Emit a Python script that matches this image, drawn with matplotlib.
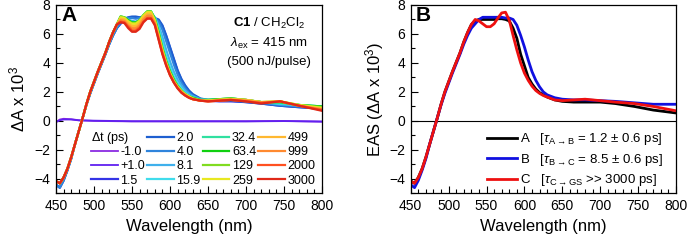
import matplotlib
matplotlib.use('Agg')
import matplotlib.pyplot as plt
from matplotlib.lines import Line2D
from matplotlib.ticker import MultipleLocator

plt.rcParams['font.family'] = ['Liberation Sans', 'DejaVu Sans']
plt.rcParams['mathtext.fontset'] = 'custom'
plt.rcParams['mathtext.rm'] = 'Liberation Sans'
plt.rcParams['mathtext.it'] = 'Liberation Sans:italic'
plt.rcParams['mathtext.bf'] = 'Liberation Sans:bold'

# wavelength grid (nm): rising edge, band region, red tail
wl_edge = [450, 455, 460, 465, 470, 475, 480, 485, 490, 495, 500, 505, 510, 515, 520, 525, 530]
wl_band = [535, 540, 545, 550, 555, 560, 565, 570, 575, 580, 585, 590, 595, 600, 605, 610, 615, 620, 625, 630]
wl_tail = [640, 650, 665, 680, 700, 720, 745, 770, 800]
wl = wl_edge + wl_band + wl_tail

edge_early = [-4.4, -4.6, -4.1, -3.4, -2.6, -1.6, -0.7, 0.2, 1.1, 1.9, 2.6, 3.3, 3.95, 4.6, 5.3, 5.9, 6.4]
edge_late = [-4.15, -4.3, -3.9, -3.3, -2.5, -1.6, -0.7, 0.2, 1.15, 2.0, 2.7, 3.4, 4.05, 4.7, 5.45, 6.1, 6.65]

# panel A: transient spectra (dA x 1e3)
delays = ['-1.0', '+1.0', '1.5', '2.0', '4.0', '8.1', '15.9', '32.4',
          '63.4', '129', '259', '499', '999', '2000', '3000']
colors_A = ['#8a2be2', '#6020f0', '#3434e6', '#1e5fd0', '#2f84dc', '#3fb0ec', '#40dcec', '#30e0a0',
            '#10d010', '#80dc20', '#e8e820', '#ffb830', '#ff8a30', '#ff5020', '#e02818']

wl_flat = [450, 455, 460, 470, 480, 500, 550, 600, 650, 700, 750, 800]
dA_m1p0 = [-0.1, 0.1, 0.15, 0.12, 0.05, 0.0, -0.03, -0.02, -0.03, -0.02, 0.0, -0.05]
dA_p1p0 = [-0.05, 0.05, 0.1, 0.1, 0.04, 0.02, -0.02, -0.03, -0.02, -0.03, -0.01, -0.04]

dA_1p5 = edge_early + [6.7, 7.0, 7.1, 7.15, 7.15, 7.1, 7.15, 7.15, 7.1, 7.05, 6.95, 6.55, 5.85, 5.05,
                       4.25, 3.45, 2.85, 2.4, 2.05, 1.8] + [1.5, 1.4, 1.35, 1.35, 1.3, 1.2, 1.05, 0.95, 0.85]
dA_2p0 = edge_early + [6.75, 7.05, 7.15, 7.2, 7.2, 7.15, 7.2, 7.2, 7.15, 7.1, 7.0, 6.6, 5.9, 5.1,
                       4.3, 3.5, 2.9, 2.45, 2.1, 1.85] + [1.55, 1.45, 1.4, 1.4, 1.3, 1.2, 1.05, 0.95, 0.85]
dA_4p0 = edge_early + [6.8, 7.05, 7.1, 7.1, 7.05, 7.1, 7.2, 7.3, 7.25, 7.1, 6.85, 6.3, 5.5, 4.7,
                       3.9, 3.2, 2.65, 2.25, 1.95, 1.75] + [1.5, 1.45, 1.45, 1.45, 1.35, 1.25, 1.1, 1.0, 0.9]
dA_8p1 = edge_late + [6.95, 7.1, 7.0, 6.9, 6.85, 6.95, 7.2, 7.4, 7.4, 7.15, 6.6, 5.8, 4.9, 4.1,
                      3.4, 2.85, 2.45, 2.1, 1.85, 1.7] + [1.5, 1.45, 1.5, 1.5, 1.4, 1.3, 1.15, 1.05, 0.95]
dA_15p9 = edge_late + [7.1, 7.1, 6.95, 6.8, 6.75, 6.9, 7.25, 7.5, 7.5, 7.15, 6.4, 5.4, 4.45, 3.7,
                       3.05, 2.6, 2.25, 1.95, 1.75, 1.6] + [1.45, 1.45, 1.5, 1.55, 1.45, 1.3, 1.2, 1.1, 1.0]
dA_32p4 = edge_late + [7.2, 7.15, 6.95, 6.8, 6.75, 6.9, 7.25, 7.55, 7.55, 7.1, 6.2, 5.1, 4.2, 3.5,
                       2.9, 2.45, 2.1, 1.85, 1.7, 1.6] + [1.45, 1.45, 1.5, 1.55, 1.45, 1.3, 1.25, 1.1, 1.0]
dA_63p4 = edge_late + [7.2, 7.15, 6.95, 6.8, 6.8, 6.95, 7.3, 7.55, 7.55, 7.05, 6.1, 5.0, 4.1, 3.4,
                       2.85, 2.4, 2.1, 1.85, 1.7, 1.6] + [1.45, 1.45, 1.5, 1.55, 1.45, 1.3, 1.3, 1.1, 1.0]
dA_129 = edge_late + [7.2, 7.15, 6.9, 6.75, 6.75, 6.95, 7.3, 7.55, 7.55, 7.0, 6.0, 4.95, 4.05, 3.35,
                      2.8, 2.4, 2.1, 1.85, 1.7, 1.55] + [1.45, 1.4, 1.5, 1.55, 1.45, 1.3, 1.35, 1.1, 0.95]
dA_259 = edge_late + [7.15, 7.1, 6.85, 6.7, 6.7, 6.9, 7.25, 7.5, 7.5, 6.95, 5.95, 4.9, 4.0, 3.3,
                      2.75, 2.35, 2.05, 1.85, 1.7, 1.55] + [1.4, 1.4, 1.45, 1.5, 1.45, 1.3, 1.35, 1.1, 0.9]
dA_499 = edge_late + [7.05, 7.0, 6.75, 6.55, 6.55, 6.75, 7.15, 7.4, 7.4, 6.85, 5.85, 4.8, 3.95, 3.25,
                      2.7, 2.3, 2.0, 1.8, 1.65, 1.5] + [1.4, 1.4, 1.45, 1.5, 1.45, 1.3, 1.35, 1.05, 0.85]
dA_999 = edge_late + [6.95, 6.9, 6.6, 6.4, 6.4, 6.6, 7.0, 7.25, 7.25, 6.75, 5.75, 4.7, 3.9, 3.2,
                      2.7, 2.3, 2.0, 1.8, 1.6, 1.5] + [1.4, 1.35, 1.4, 1.45, 1.4, 1.25, 1.35, 1.05, 0.8]
dA_2000 = edge_late + [6.85, 6.8, 6.5, 6.25, 6.25, 6.45, 6.85, 7.1, 7.1, 6.65, 5.65, 4.65, 3.85, 3.15,
                       2.65, 2.25, 1.95, 1.75, 1.6, 1.5] + [1.4, 1.35, 1.4, 1.45, 1.35, 1.25, 1.35, 1.05, 0.75]
dA_3000 = edge_late + [6.8, 6.75, 6.4, 6.15, 6.15, 6.35, 6.8, 7.05, 7.05, 6.6, 5.6, 4.6, 3.8, 3.15,
                       2.65, 2.25, 1.95, 1.75, 1.6, 1.5] + [1.4, 1.35, 1.4, 1.45, 1.35, 1.2, 1.35, 1.05, 0.7]

# panel B: evolution-associated spectra
eas_A = edge_late + [6.9, 7.0, 7.0, 7.0, 7.0, 7.0, 7.05, 7.05, 7.0, 6.9, 6.4, 5.7, 4.6, 3.8,
                     3.0, 2.55, 2.2, 1.95, 1.8, 1.65] + [1.45, 1.35, 1.3, 1.3, 1.3, 1.2, 1.0, 0.75, 0.55]
eas_B = edge_early + [6.7, 7.0, 7.15, 7.15, 7.15, 7.15, 7.15, 7.15, 7.1, 7.1, 7.0, 6.6, 5.9, 5.1,
                      4.2, 3.4, 2.8, 2.35, 2.0, 1.8] + [1.6, 1.5, 1.45, 1.45, 1.4, 1.35, 1.25, 1.15, 1.15]
eas_C = edge_late + [7.0, 6.9, 6.7, 6.5, 6.5, 6.7, 7.1, 7.45, 7.5, 6.95, 5.9, 4.9, 4.0, 3.3,
                     2.8, 2.4, 2.1, 1.9, 1.75, 1.65] + [1.45, 1.4, 1.45, 1.5, 1.4, 1.3, 1.2, 1.0, 0.7]
eas_labels = [r'A   [$\tau_{\rm A\rightarrow B}$ = 1.2 ± 0.6 ps]',
              r'B   [$\tau_{\rm B\rightarrow C}$ = 8.5 ± 0.6 ps]',
              r'C   [$\tau_{\rm C\rightarrow GS}$ >> 3000 ps]']
eas_colors = ['black', '#1010e0', '#ee1010']

traces_A = [dA_1p5, dA_2p0, dA_4p0, dA_8p1, dA_15p9, dA_32p4, dA_63p4,
            dA_129, dA_259, dA_499, dA_999, dA_2000, dA_3000]

fig = plt.figure(figsize=(6.88, 2.48), dpi=100)
axA = fig.add_axes([0.0814, 0.22, 0.3866, 0.760])
axB = fig.add_axes([0.597, 0.22, 0.3856, 0.760])

handles = [Line2D([], [], lw=0)]
handles += axA.plot(wl_flat, dA_m1p0, color=colors_A[0], lw=1.3)
handles += axA.plot(wl_flat, dA_p1p0, color=colors_A[1], lw=1.3)
for y, c in zip(traces_A, colors_A[2:]):
    handles += axA.plot(wl, y, color=c, lw=1.6)
labels = [' '] + delays

leg = axA.legend(handles, labels, ncol=4, loc='upper left', bbox_to_anchor=(0.1316, 0.326),
                 frameon=False, fontsize=9, handlelength=2.15, handletextpad=0.2,
                 columnspacing=0.15, labelspacing=0.18, borderpad=0, borderaxespad=0)
leg.get_texts()[0].set_visible(False)
axA.text(496, -1.15, r'$\Delta$t (ps)', fontsize=9, va='center', ha='left')

axA.text(0.80, 0.90, r'$\mathbf{C1}$ / CH$_2$Cl$_2$', transform=axA.transAxes,
         ha='center', va='center', fontsize=9.5)
axA.text(0.80, 0.795, r'$\lambda_{\rm ex}$ = 415 nm', transform=axA.transAxes,
         ha='center', va='center', fontsize=9.5)
axA.text(0.80, 0.695, '(500 nJ/pulse)', transform=axA.transAxes,
         ha='center', va='center', fontsize=9.5)
axA.text(0.02, 0.945, 'A', transform=axA.transAxes, fontsize=15, fontweight='bold',
         ha='left', va='center')
axA.set_ylabel(r'$\Delta$A x 10$^3$', fontsize=12, labelpad=5)

axB.axhline(0, color='black', lw=0.8)
for y, c, lab in zip([eas_A, eas_B, eas_C], eas_colors, eas_labels):
    axB.plot(wl, y, color=c, lw=2, label=lab)
axB.legend(loc='upper left', bbox_to_anchor=(0.286, 0.33), frameon=False, fontsize=9.5,
           handlelength=2.3, handletextpad=0.2, labelspacing=0.35, borderpad=0, borderaxespad=0)
axB.text(0.02, 0.945, 'B', transform=axB.transAxes, fontsize=15, fontweight='bold',
         ha='left', va='center')
axB.set_ylabel(r'EAS ($\Delta$A x 10$^3$)', fontsize=12, labelpad=2)

for ax in (axA, axB):
    ax.set_xlim(450, 800)
    ax.set_ylim(-5, 8)
    ax.xaxis.set_major_locator(MultipleLocator(50))
    ax.xaxis.set_minor_locator(MultipleLocator(10))
    ax.yaxis.set_major_locator(MultipleLocator(2))
    ax.yaxis.set_minor_locator(MultipleLocator(1))
    ax.tick_params(which='both', direction='in', labelsize=10)
    ax.tick_params(which='major', length=5, width=0.8, pad=4)
    ax.tick_params(which='minor', length=3, width=0.8)
    ax.set_xlabel('Wavelength (nm)', fontsize=12, labelpad=4)
    for s in ax.spines.values():
        s.set_linewidth(0.9)

fig.savefig('out.png', dpi=100)
